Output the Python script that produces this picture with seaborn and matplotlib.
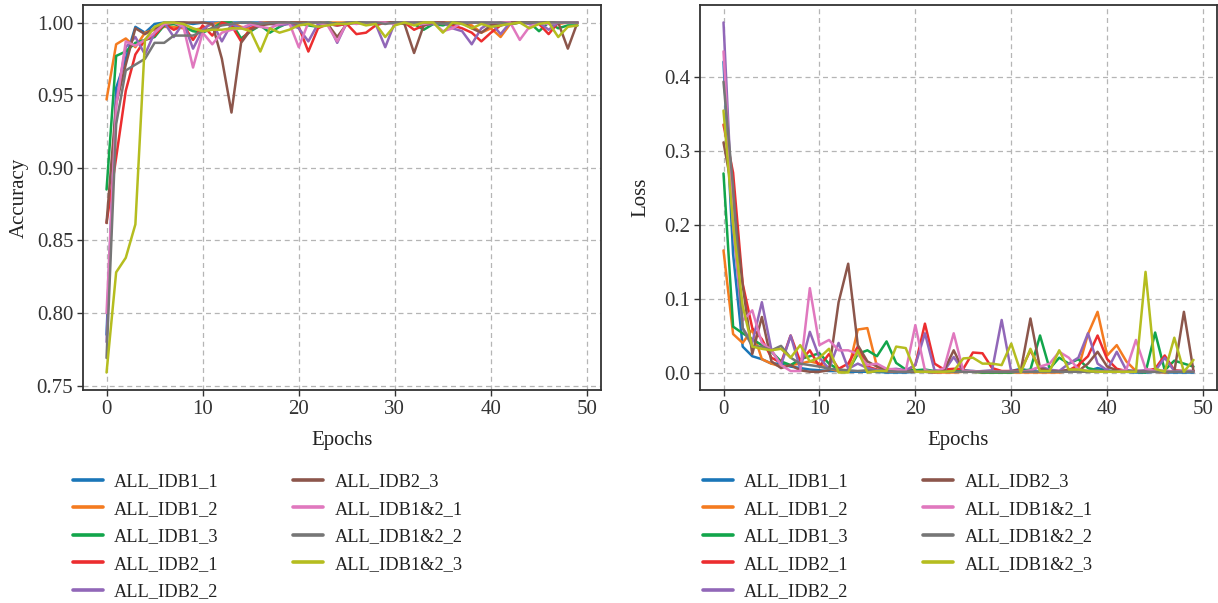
import matplotlib
matplotlib.use("Agg")
import matplotlib.pyplot as plt
import pandas as pd
import seaborn as sns

# ---- data -------------------------------------------------------------
epochs = list(range(50))
runs = ["ALL_IDB1_1", "ALL_IDB1_2", "ALL_IDB1_3", "ALL_IDB2_1", "ALL_IDB2_2",
        "ALL_IDB2_3", "ALL_IDB1&2_1", "ALL_IDB1&2_2", "ALL_IDB1&2_3"]

acc_idb1_1 = [0.785, 0.955, 0.975, 0.997, 0.993, 0.999, 1.0, 1.0, 1.0, 0.999,
              1.0, 1.0, 1.0, 1.0, 1.0, 1.0, 1.0, 1.0, 1.0, 1.0,
              1.0, 1.0, 1.0, 0.999, 0.998, 0.999, 1.0, 1.0, 1.0, 1.0,
              1.0, 1.0, 1.0, 1.0, 0.999, 1.0, 1.0, 1.0, 1.0, 1.0,
              1.0, 0.998, 1.0, 1.0, 1.0, 1.0, 1.0, 1.0, 1.0, 1.0]
acc_idb1_2 = [0.947, 0.985, 0.989, 0.983, 0.993, 0.995, 0.997, 0.997, 0.996, 0.995,
              0.996, 0.999, 1.0, 1.0, 0.997, 0.996, 1.0, 1.0, 1.0, 1.0,
              1.0, 1.0, 1.0, 1.0, 1.0, 1.0, 1.0, 1.0, 1.0, 1.0,
              1.0, 1.0, 1.0, 1.0, 1.0, 1.0, 1.0, 1.0, 0.998, 0.993,
              0.996, 0.990, 0.999, 1.0, 1.0, 1.0, 1.0, 0.999, 1.0, 1.0]
acc_idb1_3 = [0.885, 0.977, 0.980, 0.986, 0.988, 0.990, 0.998, 0.999, 0.997, 0.994,
              0.993, 0.996, 1.0, 1.0, 0.989, 0.994, 0.998, 0.993, 0.997, 1.0,
              0.999, 0.998, 0.997, 1.0, 0.999, 0.999, 1.0, 1.0, 1.0, 1.0,
              1.0, 0.999, 0.999, 0.995, 0.999, 0.998, 1.0, 0.999, 1.0, 1.0,
              0.999, 1.0, 0.999, 1.0, 1.0, 0.994, 1.0, 0.996, 0.998, 0.998]
acc_idb2_1 = [0.862, 0.907, 0.953, 0.978, 0.988, 0.991, 0.999, 0.995, 0.998, 0.988,
              0.998, 0.991, 1.0, 0.998, 0.987, 0.996, 0.999, 1.0, 1.0, 1.0,
              0.997, 0.980, 0.996, 0.999, 0.998, 0.999, 0.992, 0.993, 0.998, 1.0,
              1.0, 1.0, 0.995, 0.998, 1.0, 1.0, 0.998, 0.996, 0.993, 0.987,
              0.993, 0.998, 1.0, 1.0, 1.0, 0.999, 0.992, 1.0, 1.0, 1.0]
acc_idb2_2 = [0.780, 0.946, 0.983, 0.990, 0.978, 0.993, 1.0, 0.990, 1.0, 0.982,
              0.995, 1.0, 0.987, 0.999, 0.996, 0.998, 1.0, 0.999, 0.998, 0.999,
              0.996, 0.987, 0.999, 1.0, 0.986, 1.0, 1.0, 1.0, 0.999, 0.983,
              1.0, 1.0, 1.0, 0.998, 0.999, 1.0, 0.996, 0.994, 0.985, 0.996,
              1.0, 0.992, 1.0, 1.0, 0.999, 1.0, 0.995, 1.0, 1.0, 1.0]
acc_idb2_3 = [0.862, 0.944, 0.971, 0.996, 0.992, 0.996, 0.999, 1.0, 1.0, 1.0,
              1.0, 0.999, 0.975, 0.938, 0.986, 0.995, 0.998, 0.999, 1.0, 1.0,
              1.0, 1.0, 1.0, 0.999, 0.990, 0.999, 1.0, 1.0, 1.0, 1.0,
              1.0, 0.999, 0.979, 0.998, 1.0, 1.0, 0.999, 1.0, 0.996, 0.993,
              0.998, 1.0, 1.0, 1.0, 1.0, 1.0, 1.0, 1.0, 0.982, 1.0]
acc_idb12_1 = [0.800, 0.942, 0.987, 0.984, 0.988, 0.993, 0.999, 1.0, 0.997, 0.969,
               0.993, 0.985, 0.993, 0.995, 0.996, 0.999, 0.997, 0.996, 0.999, 1.0,
               0.983, 1.0, 1.0, 0.998, 0.987, 1.0, 0.999, 1.0, 1.0, 1.0,
               0.999, 1.0, 1.0, 0.999, 1.0, 0.994, 0.996, 1.0, 1.0, 1.0,
               1.0, 1.0, 1.0, 0.988, 0.997, 1.0, 0.999, 1.0, 1.0, 1.0]
acc_idb12_2 = [0.769, 0.930, 0.967, 0.971, 0.975, 0.986, 0.986, 0.991, 0.991, 0.991,
               0.994, 0.996, 0.998, 0.999, 1.0, 1.0, 0.999, 1.0, 1.0, 1.0,
               0.999, 1.0, 1.0, 1.0, 0.999, 1.0, 1.0, 1.0, 1.0, 0.999,
               1.0, 1.0, 1.0, 1.0, 1.0, 0.999, 1.0, 1.0, 1.0, 1.0,
               1.0, 1.0, 0.999, 1.0, 1.0, 1.0, 1.0, 1.0, 1.0, 1.0]
acc_idb12_3 = [0.759, 0.828, 0.838, 0.861, 0.988, 0.997, 1.0, 1.0, 0.999, 0.996,
               0.994, 0.995, 0.995, 0.996, 0.996, 0.994, 0.980, 0.996, 0.993, 0.995,
               0.998, 0.999, 0.997, 0.998, 0.999, 0.999, 1.0, 0.998, 0.999, 0.990,
               0.998, 1.0, 0.998, 1.0, 1.0, 0.993, 1.0, 0.999, 0.996, 0.999,
               0.997, 0.998, 0.999, 1.0, 0.996, 0.999, 1.0, 0.990, 0.997, 0.998]

loss_idb1_1 = [0.420, 0.160, 0.035, 0.022, 0.018, 0.012, 0.012, 0.008, 0.006, 0.004,
               0.003, 0.002, 0.002, 0.001, 0.001, 0.001, 0.001, 0.000, 0.000, 0.000,
               0.001, 0.001, 0.000, 0.002, 0.004, 0.003, 0.002, 0.001, 0.001, 0.001,
               0.002, 0.005, 0.002, 0.001, 0.001, 0.001, 0.002, 0.001, 0.002, 0.006,
               0.003, 0.001, 0.001, 0.000, 0.000, 0.001, 0.000, 0.000, 0.000, 0.000]
loss_idb1_2 = [0.165, 0.052, 0.040, 0.058, 0.018, 0.012, 0.008, 0.010, 0.012, 0.015,
               0.012, 0.005, 0.002, 0.002, 0.058, 0.060, 0.008, 0.002, 0.001, 0.001,
               0.001, 0.001, 0.000, 0.000, 0.000, 0.001, 0.001, 0.000, 0.000, 0.000,
               0.000, 0.000, 0.000, 0.000, 0.000, 0.000, 0.002, 0.006, 0.052, 0.082,
               0.023, 0.037, 0.015, 0.002, 0.001, 0.001, 0.000, 0.002, 0.001, 0.001]
loss_idb1_3 = [0.269, 0.062, 0.053, 0.045, 0.037, 0.028, 0.015, 0.010, 0.018, 0.022,
               0.026, 0.012, 0.004, 0.002, 0.025, 0.030, 0.022, 0.042, 0.013, 0.004,
               0.003, 0.004, 0.002, 0.003, 0.002, 0.001, 0.001, 0.000, 0.000, 0.000,
               0.000, 0.002, 0.004, 0.050, 0.005, 0.020, 0.012, 0.018, 0.006, 0.003,
               0.002, 0.001, 0.003, 0.001, 0.000, 0.054, 0.003, 0.016, 0.012, 0.008]
loss_idb2_1 = [0.335, 0.270, 0.120, 0.060, 0.045, 0.020, 0.013, 0.050, 0.015, 0.030,
               0.008, 0.025, 0.005, 0.012, 0.035, 0.008, 0.004, 0.002, 0.002, 0.002,
               0.010, 0.066, 0.012, 0.004, 0.005, 0.005, 0.027, 0.026, 0.006, 0.002,
               0.002, 0.003, 0.030, 0.005, 0.003, 0.002, 0.003, 0.010, 0.022, 0.050,
               0.018, 0.005, 0.002, 0.002, 0.002, 0.005, 0.023, 0.003, 0.002, 0.002]
loss_idb2_2 = [0.473, 0.200, 0.060, 0.040, 0.095, 0.030, 0.010, 0.050, 0.005, 0.055,
               0.020, 0.005, 0.040, 0.005, 0.012, 0.006, 0.003, 0.004, 0.005, 0.003,
               0.010, 0.053, 0.003, 0.002, 0.021, 0.002, 0.001, 0.002, 0.003, 0.071,
               0.001, 0.001, 0.002, 0.008, 0.004, 0.002, 0.012, 0.020, 0.053, 0.012,
               0.003, 0.028, 0.003, 0.002, 0.003, 0.002, 0.020, 0.002, 0.002, 0.002]
loss_idb2_3 = [0.311, 0.240, 0.118, 0.025, 0.075, 0.015, 0.006, 0.010, 0.003, 0.001,
               0.001, 0.003, 0.095, 0.147, 0.037, 0.015, 0.008, 0.004, 0.002, 0.001,
               0.001, 0.001, 0.001, 0.003, 0.030, 0.003, 0.001, 0.001, 0.001, 0.001,
               0.001, 0.003, 0.073, 0.006, 0.002, 0.001, 0.004, 0.002, 0.012, 0.028,
               0.008, 0.003, 0.001, 0.001, 0.001, 0.001, 0.002, 0.001, 0.082, 0.002]
loss_idb12_1 = [0.434, 0.200, 0.070, 0.084, 0.040, 0.030, 0.010, 0.002, 0.002, 0.114,
                0.037, 0.044, 0.030, 0.030, 0.025, 0.010, 0.012, 0.005, 0.004, 0.002,
                0.064, 0.003, 0.001, 0.006, 0.053, 0.002, 0.002, 0.001, 0.001, 0.001,
                0.001, 0.001, 0.003, 0.008, 0.012, 0.028, 0.020, 0.004, 0.002, 0.002,
                0.001, 0.001, 0.004, 0.044, 0.005, 0.002, 0.003, 0.001, 0.001, 0.001]
loss_idb12_2 = [0.393, 0.250, 0.060, 0.035, 0.035, 0.030, 0.036, 0.020, 0.012, 0.010,
                0.008, 0.005, 0.004, 0.003, 0.002, 0.003, 0.002, 0.002, 0.001, 0.001,
                0.002, 0.001, 0.001, 0.001, 0.001, 0.001, 0.001, 0.001, 0.001, 0.001,
                0.001, 0.001, 0.001, 0.001, 0.001, 0.001, 0.001, 0.001, 0.001, 0.001,
                0.001, 0.001, 0.001, 0.001, 0.001, 0.001, 0.001, 0.001, 0.001, 0.001]
loss_idb12_3 = [0.354, 0.200, 0.090, 0.035, 0.032, 0.030, 0.032, 0.020, 0.037, 0.015,
                0.020, 0.032, 0.000, 0.000, 0.030, 0.000, 0.002, 0.002, 0.035, 0.033,
                0.001, 0.001, 0.001, 0.001, 0.002, 0.019, 0.020, 0.012, 0.012, 0.010,
                0.039, 0.000, 0.032, 0.002, 0.002, 0.030, 0.004, 0.004, 0.002, 0.001,
                0.001, 0.001, 0.001, 0.001, 0.136, 0.005, 0.001, 0.047, 0.001, 0.017]

acc_series = [acc_idb1_1, acc_idb1_2, acc_idb1_3, acc_idb2_1, acc_idb2_2,
              acc_idb2_3, acc_idb12_1, acc_idb12_2, acc_idb12_3]
loss_series = [loss_idb1_1, loss_idb1_2, loss_idb1_3, loss_idb2_1, loss_idb2_2,
               loss_idb2_3, loss_idb12_1, loss_idb12_2, loss_idb12_3]

palette = ["#1a76b8", "#f47b20", "#12a54b", "#ec2d2f", "#9167b8",
           "#8c564b", "#e078be", "#767676", "#b5bd1f"]


def to_long(series, metric):
    frames = []
    for name, vals in zip(runs, series):
        frames.append(pd.DataFrame({"Epochs": epochs, metric: vals, "Run": name}))
    return pd.concat(frames, ignore_index=True)


acc_df = to_long(acc_series, "Accuracy")
loss_df = to_long(loss_series, "Loss")

# ---- style ------------------------------------------------------------
sns.set_theme(style="whitegrid", rc={
    "grid.linestyle": (0, (4, 3)),
    "grid.color": "#b5b5b5",
    "grid.linewidth": 0.9,
    "axes.edgecolor": "#333333",
    "axes.linewidth": 1.3,
    "xtick.bottom": True,
    "ytick.left": True,
    "xtick.major.size": 4,
    "ytick.major.size": 4,
    "xtick.major.width": 1.0,
    "ytick.major.width": 1.0,
    "xtick.color": "#333333",
    "ytick.color": "#333333",
    "text.color": "#222222",
    "axes.labelcolor": "#222222",
})
plt.rcParams["font.family"] = ["Liberation Serif", "DejaVu Serif"]

W, H = 1218, 603
fig = plt.figure(figsize=(W / 100, H / 100), dpi=100)
ax_acc = fig.add_axes([83 / W, 213 / H, 518 / W, 385 / H])
ax_loss = fig.add_axes([700 / W, 213 / H, 517 / W, 385 / H])

sns.lineplot(data=acc_df, x="Epochs", y="Accuracy", hue="Run", hue_order=runs,
             palette=palette, linewidth=1.8, ax=ax_acc)
sns.lineplot(data=loss_df, x="Epochs", y="Loss", hue="Run", hue_order=runs,
             palette=palette, linewidth=1.8, ax=ax_loss)

for ax in (ax_acc, ax_loss):
    ax.tick_params(labelsize=15, pad=3)
    ax.set_xlabel("Epochs", fontsize=15, labelpad=9)
    ax.yaxis.label.set_size(15)
    ax.set_xticks([0, 10, 20, 30, 40, 50])
    handles, labels = ax.get_legend_handles_labels()
    ax.get_legend().remove()

ax_acc.set_yticks([0.75, 0.80, 0.85, 0.90, 0.95, 1.00])
ax_acc.set_yticklabels(["0.75", "0.80", "0.85", "0.90", "0.95", "1.00"])
ax_acc.set_ylabel("Accuracy", labelpad=6)
ax_loss.set_yticks([0.0, 0.1, 0.2, 0.3, 0.4])
ax_loss.set_ylabel("Loss", labelpad=10)

# one legend under each panel
for x0 in (73, 703):
    leg = fig.legend(handles, labels, loc="upper left",
                     bbox_to_anchor=(x0 / W, 1 - 473 / H), ncol=2,
                     frameon=False, fontsize=13.2, handlelength=1.65,
                     handletextpad=0.6, columnspacing=4.05, labelspacing=0.58,
                     borderpad=0, borderaxespad=0)
    for line in leg.get_lines():
        line.set_linewidth(2.6)

fig.savefig("out.png", dpi=100)
